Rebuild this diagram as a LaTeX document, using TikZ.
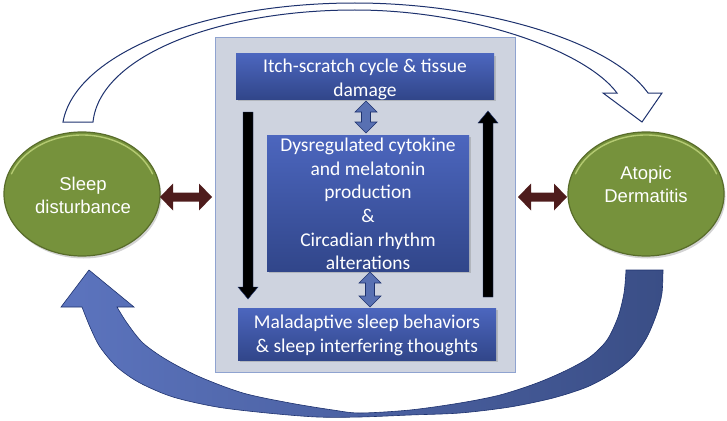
\documentclass[tikz,border=0pt]{standalone}
\usepackage{fontspec}
\newfontfamily\carlito{Carlito}
\newfontfamily\arialf{Liberation Sans}
\usetikzlibrary{shapes.geometric,shadows}
\definecolor{panelfill}{RGB}{206,211,223}
\definecolor{paneldraw}{RGB}{143,163,208}
\definecolor{boxtop}{RGB}{76,102,190}
\definecolor{boxbot}{RGB}{49,70,138}
\definecolor{olive}{RGB}{118,146,60}
\definecolor{olivedark}{RGB}{88,108,42}
\definecolor{olivelight}{RGB}{196,216,128}
\definecolor{brownc}{RGB}{78,28,28}
\definecolor{navyline}{RGB}{30,50,110}
\definecolor{smallblue}{RGB}{88,112,178}
\definecolor{bigleft}{RGB}{92,116,190}
\definecolor{bigright}{RGB}{58,78,134}
\begin{document}
\begin{tikzpicture}[x=1pt,y=-1pt,
  bluebox/.style={rectangle, inner sep=0pt, top color=boxtop, bottom color=boxbot,
    draw=none,
    drop shadow={opacity=0.35, shadow xshift=1.5pt, shadow yshift=-2pt}},
  boxtext/.style={text=white, align=center, inner sep=0pt, font=\carlito\fontsize{19.5}{24}\selectfont},
  ellip/.style={ellipse, inner sep=0pt, minimum width=156pt, minimum height=124pt,
    fill=olive, draw=olivedark, line width=1.2pt,
    drop shadow={opacity=0.35, shadow xshift=1.5pt, shadow yshift=-2.5pt}},
  etext/.style={text=white, align=center, font=\arialf\fontsize{18.5}{23}\selectfont},
  rim/.style={draw=olivelight, line width=1.4pt, opacity=0.8, line cap=round},
  brownarrow/.style={fill=brownc},
  blackarrow/.style={fill=black, draw=navyline, line width=0.4pt},
  smallarrow/.style={fill=smallblue, draw=navyline, line width=0.6pt},
  hollowarrow/.style={fill=white, draw=navyline, line width=1pt},
  bigarrow/.style={left color=bigleft, right color=bigright, draw=navyline, line width=0.6pt}
]
\useasboundingbox (0,0) rectangle (727,420);

% top hollow curved arrow
\path[hollowarrow] (63,122) .. controls (75,55) and (200,3) .. (355,3)
  .. controls (480,3) and (610,40) .. (648,93) -- (662,93) -- (642,122) -- (603,93) -- (617,93)
  .. controls (585,50) and (470,10) .. (355,10)
  .. controls (220,10) and (100,55) .. (93,122) -- cycle;

% bottom thick curved arrow
\path[bigarrow] plot[smooth, tension=0.5] coordinates {(663,270) (662,293) (657,313) (647,337) (633,357) (613,373) (587,387) (553,398) (510,407) (460,413) (410,415) (360,417) (317,417) (267,413) (217,407) (173,397) (140,383) (117,367) (100,347) (90,327) (82,307)}
  -- (61,307) -- (89,270) -- (134,307) -- (117,307)
  -- plot[smooth, tension=0.5] coordinates {(117,307) (127,323) (143,343) (167,360) (200,377) (243,393) (290,403) (333,410) (360,413) (410,410) (460,403) (500,395) (537,383) (567,370) (590,357) (607,340) (618,317) (624,293) (626,270)}
  -- cycle;

% central panel
\node[rectangle, fill=panelfill, draw=paneldraw, line width=0.8pt, minimum width=300pt, minimum height=335pt, inner sep=0pt] (panel) at (365,204.5) {};

\node[bluebox, minimum width=258pt, minimum height=45pt] (itch) at (365,76.5) {};
\node[boxtext] (itchtext) at (365,79) {Itch-scratch cycle \& tissue\\damage};
\node[bluebox, minimum width=202pt, minimum height=136pt] (cyto) at (368,203) {};
\node[boxtext, font=\carlito\fontsize{19.5}{23.6}\selectfont] (cytotext) at (368,204) {Dysregulated cytokine\\and melatonin\\production\\\&\\Circadian rhythm\\alterations};
\node[bluebox, minimum width=258pt, minimum height=52pt] (malad) at (367,334) {};
\node[boxtext] (maladtext) at (367,335) {Maladaptive sleep behaviors\\\& sleep interfering thoughts};

% small blue double arrows
\path[smallarrow] (366,101) -- (377,112) -- (370.5,112) -- (370.5,122) -- (377,122) -- (366,133) -- (355,122) -- (361.5,122) -- (361.5,112) -- (355,112) -- cycle;
\path[smallarrow] (370,272) -- (381,283) -- (374.5,283) -- (374.5,296) -- (381,296) -- (370,307) -- (359,296) -- (365.5,296) -- (365.5,283) -- (359,283) -- cycle;

% black arrows
\path[blackarrow] (243,112) -- (253,112) -- (253,287) -- (258,287) -- (248,299) -- (238,287) -- (243,287) -- cycle;
\path[blackarrow] (483,297) -- (493,297) -- (493,123) -- (498,123) -- (488,111) -- (478,123) -- (483,123) -- cycle;

% ellipses
\node[ellip] (sleep) at (82,194) {};
\draw[rim] ([shift={(200:75 and 59)}]sleep.center) arc[start angle=200, end angle=340, x radius=75, y radius=59];
\node[etext] (sleeptext) at (83,195) {Sleep\\disturbance};
\node[ellip] (ad) at (646,194) {};
\draw[rim] ([shift={(200:75 and 59)}]ad.center) arc[start angle=200, end angle=340, x radius=75, y radius=59];
\node[etext] (adtext) at (646,184) {Atopic\\Dermatitis};

% brown double arrows
\path[brownarrow] (160,197) -- (173,183.5) -- (173,192.5) -- (199,192.5) -- (199,183.5) -- (212,197) -- (199,210.5) -- (199,201.5) -- (173,201.5) -- (173,210.5) -- cycle;
\path[brownarrow] (518,197) -- (531,183.5) -- (531,192.5) -- (554,192.5) -- (554,183.5) -- (567,197) -- (554,210.5) -- (554,201.5) -- (531,201.5) -- (531,210.5) -- cycle;
\end{tikzpicture}
\end{document}
